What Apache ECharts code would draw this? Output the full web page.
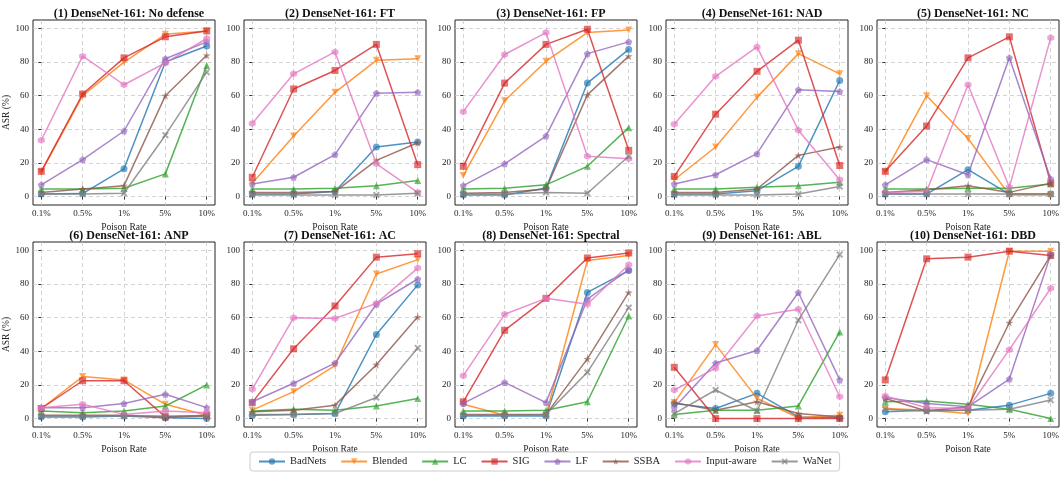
<!DOCTYPE html>
<html><head><meta charset="utf-8">
<script src="https://cdn.jsdelivr.net/npm/echarts@6/dist/echarts.min.js"></script>
<style>html,body{margin:0;padding:0;background:#fff}#c{width:1062px;height:477px}</style>
</head><body><div id="c"></div>
<script>
const rates = ['0.1%', '0.5%', '1%', '5%', '10%'];
const attacks = ['BadNets', 'Blended', 'LC', 'SIG', 'LF', 'SSBA', 'Input-aware', 'WaNet'];
const panelTitles = ['(1) DenseNet-161: No defense', '(2) DenseNet-161: FT', '(3) DenseNet-161: FP',
  '(4) DenseNet-161: NAD', '(5) DenseNet-161: NC', '(6) DenseNet-161: ANP', '(7) DenseNet-161: AC',
  '(8) DenseNet-161: Spectral', '(9) DenseNet-161: ABL', '(10) DenseNet-161: DBD'];
const yTicks = [0, 20, 40, 60, 80, 100];

// rows: BadNets, Blended, LC, SIG, LF, SSBA, Input-aware, WaNet
const asrNoDefense = [
  [1.5, 1.8, 16.5, 80, 89.5], [14.5, 60, 80, 96.5, 98.5], [4.5, 4.5, 5, 13.5, 78], [15, 61, 82.5, 95, 98.5],
  [7, 22, 39, 82, 92], [2.5, 4.5, 6.5, 60, 84], [33.5, 83.5, 66.5, 79.5, 94], [1.5, 1.5, 2, 36.5, 74]];
const asrFT = [
  [1.5, 1.5, 3, 29.5, 32.5], [8, 36, 62, 81, 82], [4.5, 4.5, 5, 6.5, 9.5], [11.5, 64, 75, 90.5, 19],
  [7.5, 11.5, 25, 61.5, 62], [2.5, 2.5, 3, 21.5, 32], [43.5, 73, 86, 19.5, 2.5], [1, 1, 1, 1, 2]];
const asrFP = [
  [1, 1, 5, 67.5, 87.5], [12.5, 57, 80.5, 97.5, 99], [4.5, 5, 7, 18, 41], [18, 67.5, 90.5, 99.5, 27.5],
  [6.5, 19.5, 36, 85, 92], [2, 2.5, 4.5, 60.5, 83.5], [50.5, 84.5, 97.5, 24, 22.5], [1.5, 1.5, 2.5, 2, 24]];
const asrNAD = [
  [1.5, 1.5, 3.5, 18, 69], [10, 29.5, 59, 85, 73], [4.5, 4.5, 5.5, 6.5, 8.5], [12, 49, 74.5, 93, 18.5],
  [7.5, 13, 25.5, 63.5, 62.5], [2.5, 2.5, 4.5, 24.5, 29.5], [43, 71.5, 89, 39.5, 10], [1, 1, 1, 1.5, 6]];
const asrNC = [
  [1.5, 1.5, 16, 1.5, 1.5], [14.5, 60, 34.5, 1, 1], [4.5, 4.5, 5, 5, 7.5], [15, 42, 82.5, 95, 8],
  [7, 22, 13, 82.5, 10.5], [2.5, 4, 6.5, 2.5, 8], [2.5, 3, 66.5, 5.5, 94.5], [1.5, 1.5, 1.5, 1.5, 1.5]];
const asrANP = [
  [1, 1, 1.5, 0.5, 0], [6, 25, 23, 8.5, 2], [4.5, 3.5, 4.5, 7.5, 20], [6, 22.5, 22.5, 1, 2],
  [6.5, 6.5, 9, 14.5, 6.5], [2, 2, 2, 1, 1.5], [6.5, 8.5, 2.5, 4.5, 3.5], [1.5, 1.5, 1.5, 1.5, 1.5]];
const asrAC = [
  [2, 2.5, 3, 50, 79.5], [5, 16, 31.5, 86, 94.5], [4.5, 5.5, 5, 7.5, 12], [9.5, 41.5, 67, 96, 98],
  [10, 21, 33, 68, 83], [4, 5, 8, 32, 60.5], [17.5, 60, 59.5, 68.5, 89.5], [2.5, 2.5, 3, 12.5, 42]];
const asrSpectral = [
  [1.5, 1.5, 1.5, 75, 88], [8.5, 2, 2, 94, 97], [4.5, 4.5, 5, 10, 61], [10, 52.5, 71.5, 95.5, 98.5],
  [9, 21.5, 9.5, 71, 88.5], [2.5, 2.5, 2.5, 35.5, 75], [25.5, 62, 71.5, 68, 91.5], [2, 2, 2.5, 27.5, 66]];
const asrABL = [
  [9, 6, 15, 1, 0.5], [9.5, 44, 12, 0.5, 2], [2.5, 5, 5, 7.5, 51.5], [30.5, 0, 0, 0, 0],
  [6.5, 33, 40.5, 75, 23], [9.5, 5, 10, 3, 1], [17, 30, 61, 65, 13], [3, 17, 4.5, 58.5, 97.5]];
const asrDBD = [
  [4, 5, 5, 8, 15], [6, 5, 3, 99.5, 99.5], [10, 10.5, 8.5, 5.5, 0], [23, 95, 96, 99.5, 97],
  [12.5, 9, 7, 23.5, 97.5], [12, 4.5, 7, 57, 97], [13.5, 6.5, 6, 41, 77.5], [5.5, 4.5, 5, 5.5, 11]];

const panels = [asrNoDefense, asrFT, asrFP, asrNAD, asrNC, asrANP, asrAC, asrSpectral, asrABL, asrDBD];

const colors = ['#1f77b4', '#ff7f0e', '#2ca02c', '#d62728', '#9467bd', '#8c564b', '#e377c2', '#7f7f7f'];
const symbols = [
  'circle',
  'path://M0,0L100,0L50,100Z',
  'triangle',
  'rect',
  'path://M50,0L97.55,34.55L79.39,90.45L20.61,90.45L2.45,34.55Z',
  'path://M50,0L61.17,34.63L97.55,34.55L68.07,55.87L79.39,90.45L50,69L20.61,90.45L31.93,55.87L2.45,34.55L38.83,34.63Z',
  'path://M50,0L93.3,25L93.3,75L50,100L6.7,75L6.7,25Z',
  'path://M20,0L50,30L80,0L100,20L70,50L100,80L80,100L50,70L20,100L0,80L30,50L0,20Z'
];
const symbolSizes = [7, 7, 7, 7, 7, 8, 7, 7];

const FONT = '"Liberation Serif", "DejaVu Serif", serif';
const lefts = [33, 244, 455, 666, 877];
const W = 182, H = 185, tops = [20, 242];

const grids = [], xAxes = [], yAxes = [], series = [], titles = [];
panels.forEach((data, p) => {
  const col = p % 5, row = Math.floor(p / 5);
  grids.push({left: lefts[col], top: tops[row], width: W, height: H, show: true,
    borderColor: '#222', borderWidth: 1, backgroundColor: 'transparent'});
  titles.push({text: panelTitles[p], left: lefts[col] + W / 2, top: tops[row] - 17, textAlign: 'center',
    textStyle: {fontFamily: FONT, fontWeight: 'bold', fontSize: 12, color: '#111'}});
  xAxes.push({type: 'value', gridIndex: p, min: -0.2, max: 4.2,
    name: 'Poison Rate', nameLocation: 'middle', nameGap: 17,
    nameTextStyle: {fontFamily: FONT, fontSize: 9.5, color: '#222'},
    axisLine: {show: false},
    axisTick: {show: true, length: 3, lineStyle: {color: '#333'}, customValues: [0, 1, 2, 3, 4]},
    axisLabel: {customValues: [0, 1, 2, 3, 4], formatter: v => rates[Math.round(v)], margin: 4,
      fontFamily: FONT, fontSize: 9, color: '#222'},
    splitLine: {show: true, lineStyle: {color: '#c8c8c8', type: [4, 3], width: 0.8}}
  });
  yAxes.push({type: 'value', gridIndex: p, min: -5, max: 105,
    name: col === 0 ? 'ASR (%)' : '', nameLocation: 'middle', nameGap: 16,
    nameTextStyle: {fontFamily: FONT, fontSize: 9.5, color: '#222'},
    axisLine: {show: false},
    axisTick: {show: true, length: 3, lineStyle: {color: '#333'}, customValues: yTicks},
    axisLabel: {customValues: yTicks, margin: 4, fontFamily: FONT, fontSize: 9, color: '#222'},
    splitLine: {show: true, lineStyle: {color: '#c8c8c8', type: [4, 3], width: 0.8}}
  });
  data.forEach((vals, a) => {
    series.push({
      name: attacks[a], type: 'line', xAxisIndex: p, yAxisIndex: p,
      data: vals.map((v, i) => [i, v]),
      symbol: symbols[a], symbolSize: symbolSizes[a], showSymbol: true,
      lineStyle: {color: colors[a], width: 1.5, opacity: 0.8},
      itemStyle: {color: colors[a], opacity: 0.65},
      emphasis: {disabled: true}, z: 2 + a
    });
  });
});

const chart = echarts.init(document.getElementById('c'), null, {renderer: 'canvas'});
chart.setOption({
  animation: false,
  title: titles,
  grid: grids, xAxis: xAxes, yAxis: yAxes, series: series,
  legend: {data: attacks, left: 250, top: 452, orient: 'horizontal',
    itemWidth: 26, itemHeight: 8, itemGap: 14,
    borderColor: '#ccc', borderWidth: 1, borderRadius: 3, padding: [4, 8],
    textStyle: {fontFamily: FONT, fontSize: 10.5, color: '#222'}}
});
</script></body></html>
